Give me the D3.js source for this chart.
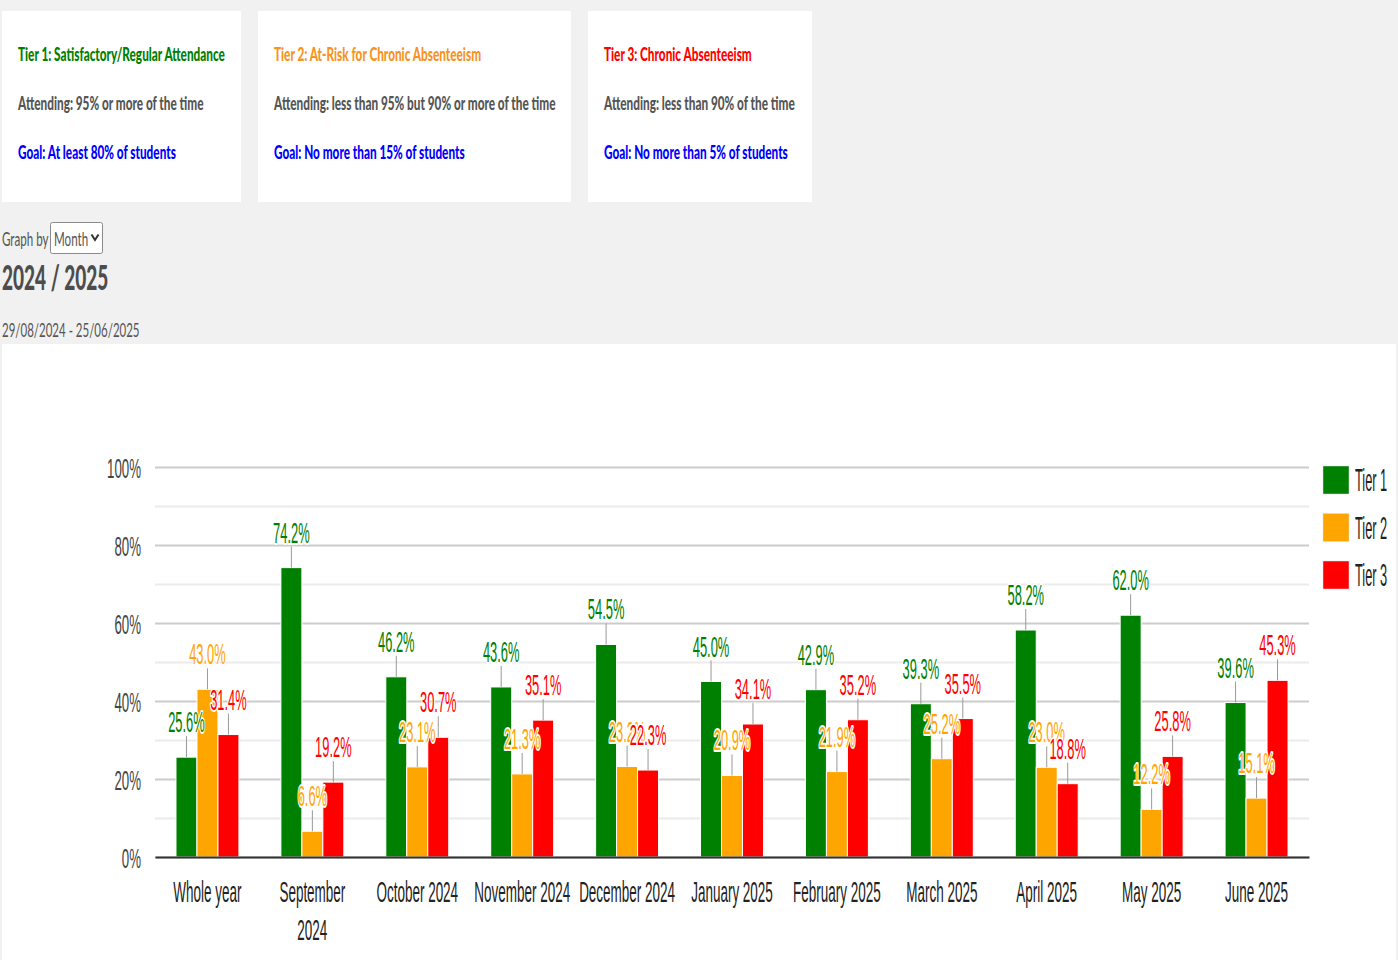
<!DOCTYPE html>
<html lang="en">
<head>
<meta charset="utf-8">
<title>Attendance tiers 2024 / 2025</title>
<script src="https://d3js.org/d3.v7.min.js"></script>
<style>
  body { margin: 0; background: #f1f1f1; }
  svg { display: block; }
</style>
</head>
<body>
<script>
// size
var w = 1398, h = 960;

// data
var categories = ["Whole year", "September 2024", "October 2024", "November 2024", "December 2024",
  "January 2025", "February 2025", "March 2025", "April 2025", "May 2025", "June 2025"];
var tier1 = [25.6, 74.2, 46.2, 43.6, 54.5, 45.0, 42.9, 39.3, 58.2, 62.0, 39.6];
var tier2 = [43.0, 6.6, 23.1, 21.3, 23.2, 20.9, 21.9, 25.2, 23.0, 12.2, 15.1];
var tier3 = [31.4, 19.2, 30.7, 35.1, 22.3, 34.1, 35.2, 35.5, 18.8, 25.8, 45.3];
var seriesNames = ["Tier 1", "Tier 2", "Tier 3"];
var seriesColors = ["#008000", "#ffa500", "#ff0000"];
var yTicks = [0, 10, 20, 30, 40, 50, 60, 70, 80, 90, 100];

var cardTitles = ["Tier 1: Satisfactory/Regular Attendance", "Tier 2: At-Risk for Chronic Absenteeism", "Tier 3: Chronic Absenteeism"];
var cardTitleColors = ["#008000", "#f7931e", "#ff0000"];
var cardAttending = ["Attending: 95% or more of the time", "Attending: less than 95% but 90% or more of the time", "Attending: less than 90% of the time"];
var cardGoals = ["Goal: At least 80% of students", "Goal: No more than 15% of students", "Goal: No more than 5% of students"];

var series = seriesNames.map(function (name, i) {
  return { name: name, color: seriesColors[i], values: [tier1, tier2, tier3][i] };
});

var svg = d3.select("body").append("svg").attr("width", w).attr("height", h);

// squeezed text helper (the page looks horizontally compressed)
var chartFont = "'Liberation Sans', Arial, sans-serif";
var cardFont = "Lato, 'Open Sans', sans-serif";
function label(parent, x, y, s, o) {
  var g = parent.append("g")
    .attr("transform", "translate(" + x + "," + y + ") scale(" + o.sx + ",1)");
  return g.append("text")
    .text(s)
    .attr("font-family", o.font || chartFont)
    .attr("font-size", o.size)
    .attr("font-weight", o.weight || "normal")
    .attr("fill", o.fill || "#222")
    .attr("text-anchor", o.anchor || "start");
}

// ---- top cards
var cardBoxes = [[2, 239], [258, 313], [588, 224]];
cardBoxes.forEach(function (b, i) {
  svg.append("rect").attr("x", b[0]).attr("y", 11).attr("width", b[1]).attr("height", 191).attr("fill", "#fff");
  var tx = b[0] + 16;
  label(svg, tx, 61, cardTitles[i], { font: cardFont, size: 19, weight: 900, fill: cardTitleColors[i], sx: 0.62 });
  label(svg, tx, 110, cardAttending[i], { font: cardFont, size: 19, weight: 900, fill: "#555", sx: 0.62 });
  label(svg, tx, 159, cardGoals[i], { font: cardFont, size: 19, weight: 900, fill: "#0000ff", sx: 0.62 });
});

// ---- graph by / title
label(svg, 2, 246, "Graph by", { font: cardFont, size: 20, fill: "#555", sx: 0.58 });
svg.append("rect").attr("x", 50.5).attr("y", 222.5).attr("width", 52).attr("height", 31)
  .attr("fill", "#fff").attr("stroke", "#8a8a8a").attr("rx", 2);
label(svg, 54, 246, "Month", { font: cardFont, size: 20, fill: "#555", sx: 0.58 });
svg.append("path").attr("d", "M91.5,234.5 L95,240 L98.5,234.5")
  .attr("fill", "none").attr("stroke", "#333").attr("stroke-width", 2);
label(svg, 2, 290, "2024 / 2025", { font: cardFont, size: 34, weight: 900, fill: "#4d4d4d", sx: 0.56 });
label(svg, 2, 337, "29/08/2024 - 25/06/2025", { font: cardFont, size: 20, fill: "#555", sx: 0.575 });

// ---- chart panel
svg.append("rect").attr("x", 2).attr("y", 344).attr("width", 1394).attr("height", 616).attr("fill", "#fff");

var plotLeft = 155, plotRight = 1309, plotTop = 467, plotBottom = 857;
var y = d3.scaleLinear().domain([0, 100]).range([plotBottom, plotTop]);
var x0 = d3.scaleBand().domain(categories).range([plotLeft, plotRight]);
var bw = x0.bandwidth();
var x1 = d3.scaleBand().domain(seriesNames).range([0.2 * bw, 0.8 * bw]);

// y axis + gridlines
var ySx = 0.475;
var yAxis = svg.append("g").attr("transform", "translate(" + plotLeft + ",0)")
  .call(d3.axisLeft(y).tickValues(yTicks).tickSize(-(plotRight - plotLeft))
    .tickFormat(function (d) { return d % 20 === 0 ? d + "%" : ""; }));
yAxis.select(".domain").remove();
yAxis.selectAll(".tick line")
  .attr("stroke", function (d) { return d % 20 === 0 ? "#cccccc" : "#ebebeb"; })
  .attr("stroke-width", 2);
yAxis.selectAll(".tick text")
  .attr("x", -14 / ySx).attr("dy", "0.36em")
  .attr("transform", "scale(" + ySx + ",1)")
  .attr("font-family", chartFont).attr("font-size", 28).attr("fill", "#444");

// bars
var groups = svg.append("g").selectAll("g")
  .data(categories)
  .join("g")
  .attr("transform", function (d) { return "translate(" + x0(d) + ",0)"; });

groups.selectAll("rect")
  .data(function (d, i) { return series.map(function (s) { return { s: s, v: s.values[i] }; }); })
  .join("rect")
  .attr("x", function (d) { return x1(d.s.name); })
  .attr("y", function (d) { return y(d.v); })
  .attr("width", x1.bandwidth())
  .attr("height", function (d) { return y(0) - y(d.v); })
  .attr("fill", function (d) { return d.s.color; })
  .attr("stroke", "#fff").attr("stroke-width", 1);

// x axis
var xSx = 0.465;
var xAxis = svg.append("g").attr("transform", "translate(0," + plotBottom + ")")
  .call(d3.axisBottom(x0).tickSize(0).tickSizeOuter(0));
xAxis.select(".domain").attr("stroke", "#333").attr("stroke-width", 2);
xAxis.selectAll(".tick text")
  .attr("y", 45).attr("dy", 0)
  .attr("transform", "scale(" + xSx + ",1)")
  .attr("font-family", chartFont).attr("font-size", 29).attr("fill", "#222")
  .each(function (d) {
    var t = d3.select(this);
    if (this.getComputedTextLength() * xSx > bw * 0.94) {
      var words = d.split(" ");
      var last = words.pop();
      t.text(null);
      t.append("tspan").attr("x", 0).text(words.join(" "));
      t.append("tspan").attr("x", 0).attr("dy", 38).text(last);
    }
  });

// value labels with leader lines
groups.each(function (cat, i) {
  var g = d3.select(this);
  series.forEach(function (s) {
    var cx = x1(s.name) + x1.bandwidth() / 2;
    var yt = y(s.values[i]);
    g.append("line").attr("x1", cx).attr("x2", cx).attr("y1", yt).attr("y2", yt - 21)
      .attr("stroke", "#999").attr("stroke-width", 1);
  });
});
groups.each(function (cat, i) {
  var g = d3.select(this);
  series.forEach(function (s) {
    var cx = x1(s.name) + x1.bandwidth() / 2;
    var yt = y(s.values[i]);
    label(g, cx, yt - 25, s.values[i].toFixed(1) + "%", { size: 30, fill: s.color, anchor: "middle", sx: 0.43 })
      .attr("stroke", "#fff").attr("stroke-width", 4).attr("paint-order", "stroke")
      .attr("stroke-linejoin", "round");
  });
});

// legend
var legend = svg.append("g").selectAll("g")
  .data(series)
  .join("g")
  .attr("transform", function (d, i) { return "translate(1323," + (466 + i * 47.5) + ")"; });
legend.append("rect").attr("width", 26).attr("height", 28)
  .attr("fill", function (d) { return d.color; })
  .attr("stroke", "#ddd").attr("stroke-width", 0.5);
legend.each(function (d) {
  label(d3.select(this), 32, 25, d.name, { size: 32, fill: "#222", sx: 0.4 });
});
</script>
</body>
</html>
